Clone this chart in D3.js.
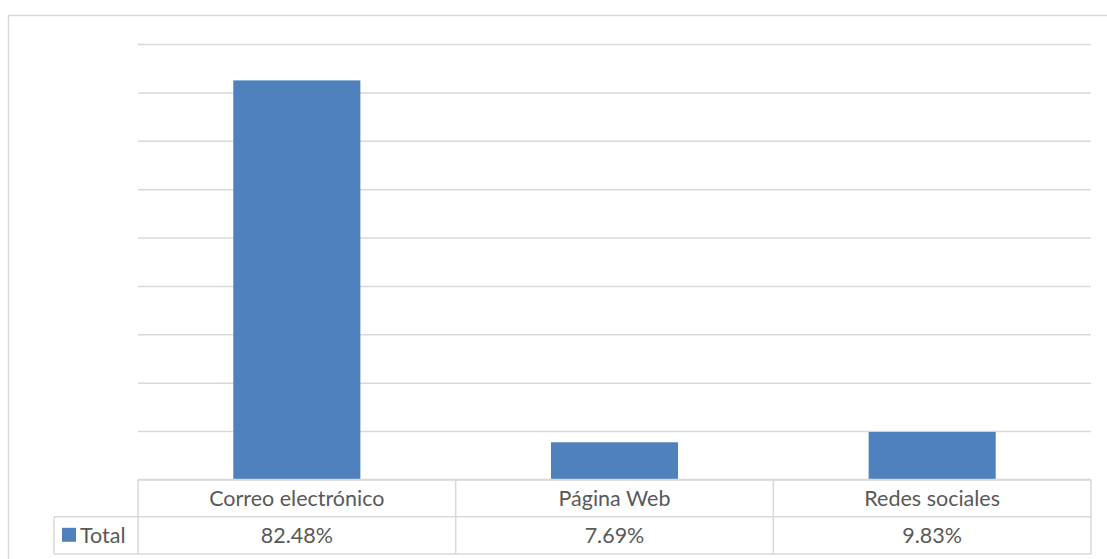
<!DOCTYPE html>
<html>
<head>
<meta charset="utf-8">
<script src="https://cdn.jsdelivr.net/npm/d3@7"></script>
<style>
  html, body { margin: 0; padding: 0; background: #fff; }
  svg { display: block; }
  text { font-family: Lato, "Open Sans", sans-serif; fill: #595959; }
</style>
</head>
<body>
<svg id="chart" width="1107" height="559"></svg>
<script>
// Canal de comunicación preferido (porcentaje del total)
const categories = ["Correo electrónico", "Página Web", "Redes sociales"];
const totals = [82.48, 7.69, 9.83];
const valueLabels = ["82.48%", "7.69%", "9.83%"];
const seriesName = "Total";
const gridTicks = [0, 10, 20, 30, 40, 50, 60, 70, 80, 90];

const svg = d3.select("#chart");
const W = 1107, H = 559;

const plot = { left: 138, right: 1091, top: 44, bottom: 479.5 };
const rowH = 37.3;
const tableLeft = 54;
const gridColor = "#d9d9d9";
const barColor = "#4f81bd";
const fontSize = 21.5;

// chart area frame
svg.append("rect")
  .attr("x", 8.5).attr("y", 15.5)
  .attr("width", W + 10).attr("height", H + 10)
  .attr("fill", "none").attr("stroke", gridColor).attr("stroke-width", 1.5);

const x = d3.scaleBand()
  .domain(categories)
  .range([plot.left, plot.right])
  .paddingInner(0).paddingOuter(0);

const y = d3.scaleLinear()
  .domain([0, 90])
  .range([plot.bottom, plot.top]);

// horizontal gridlines
const yAxis = d3.axisLeft(y).tickValues(gridTicks).tickSize(-(plot.right - plot.left)).tickFormat("");
const gAxis = svg.append("g").attr("transform", `translate(${plot.left},0)`).call(yAxis);
gAxis.select(".domain").remove();
gAxis.selectAll(".tick line").attr("stroke", gridColor).attr("stroke-width", 1.5);

// bars: width = band / (1 + gap 150%)
const barW = x.bandwidth() / 2.5;
svg.append("g").selectAll("rect")
  .data(categories.map((c, i) => ({ c, v: totals[i] })))
  .join("rect")
  .attr("x", d => x(d.c) + (x.bandwidth() - barW) / 2)
  .attr("y", d => y(d.v))
  .attr("width", barW)
  .attr("height", d => y(0) - y(d.v))
  .attr("fill", barColor);

// data table
const tbl = svg.append("g").attr("fill", "none").attr("stroke", gridColor).attr("stroke-width", 1.5);
const r0 = plot.bottom, r1 = r0 + rowH, r2 = r1 + rowH;
tbl.append("line").attr("x1", plot.left).attr("x2", plot.right).attr("y1", r0).attr("y2", r0);
tbl.append("line").attr("x1", tableLeft).attr("x2", plot.right).attr("y1", r1).attr("y2", r1);
tbl.append("line").attr("x1", tableLeft).attr("x2", plot.right).attr("y1", r2).attr("y2", r2);
tbl.append("line").attr("x1", tableLeft).attr("x2", tableLeft).attr("y1", r1).attr("y2", r2);
const dividers = categories.map(c => x(c)).concat([plot.right]);
tbl.selectAll("line.v").data(dividers).join("line").attr("class", "v")
  .attr("x1", d => d).attr("x2", d => d).attr("y1", r0).attr("y2", r2);

svg.append("g").selectAll("text.cat")
  .data(categories).join("text").attr("class", "cat")
  .attr("x", d => x(d) + x.bandwidth() / 2)
  .attr("y", r0 + 26.5)
  .attr("text-anchor", "middle")
  .attr("font-size", fontSize)
  .text(d => d);

svg.append("g").selectAll("text.val")
  .data(categories).join("text").attr("class", "val")
  .attr("x", d => x(d) + x.bandwidth() / 2)
  .attr("y", r1 + 26)
  .attr("text-anchor", "middle")
  .attr("font-size", fontSize)
  .text((d, i) => valueLabels[i]);

// legend key + series name
svg.append("rect").attr("x", 62).attr("y", r1 + 11).attr("width", 14).attr("height", 14).attr("fill", barColor);
svg.append("text").attr("x", 80).attr("y", r1 + 26).attr("font-size", fontSize).text(seriesName);
</script>
</body>
</html>
